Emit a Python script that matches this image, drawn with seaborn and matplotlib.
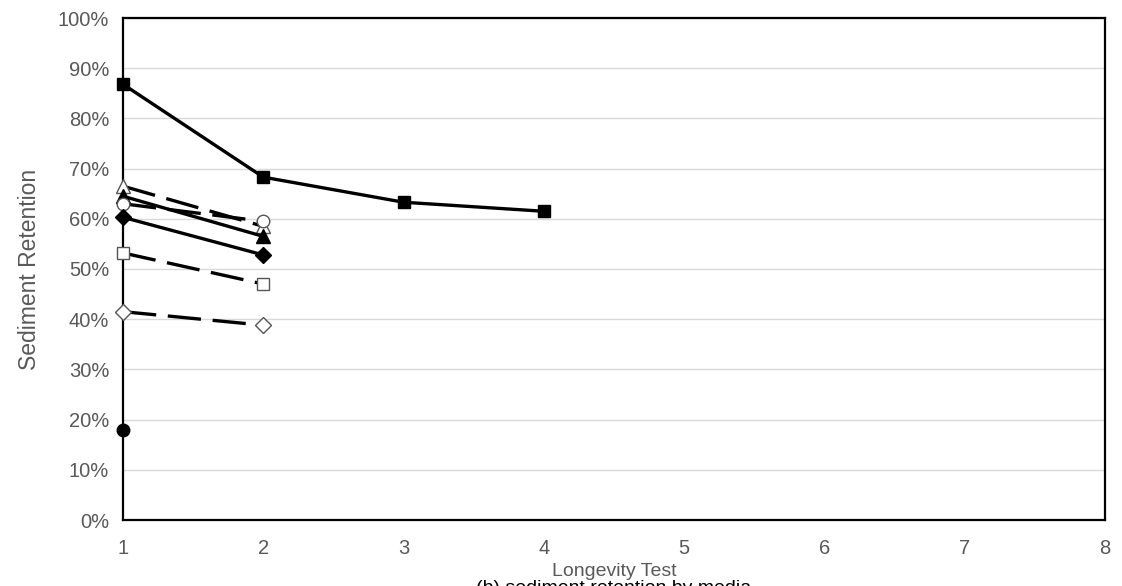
import pandas as pd
import numpy as np
import matplotlib.pyplot as plt
import seaborn as sns
from matplotlib.ticker import PercentFormatter

sns.set_theme(style="white")
plt.rcParams['font.family'] = ['Liberation Sans', 'DejaVu Sans']

# Retention values (%) per series
tests_a = [1, 2, 3, 4]
solid_square = [86.8, 68.3, 63.3, 61.5]

tests_b = [1, 2]
open_triangle = [66.5, 58.5]
solid_triangle = [64.5, 56.5]
open_circle = [63.0, 59.5]
solid_diamond = [60.3, 52.8]
open_square = [53.2, 47.0]
open_diamond = [41.5, 38.8]

tests_c = [1]
solid_circle = [18.0]

series = [
    ('solid square', tests_a, solid_square, 's', 'black', '-'),
    ('open triangle', tests_b, open_triangle, '^', 'white', '--'),
    ('solid triangle', tests_b, solid_triangle, '^', 'black', '-'),
    ('open circle', tests_b, open_circle, 'o', 'white', '--'),
    ('solid diamond', tests_b, solid_diamond, 'D', 'black', '-'),
    ('open square', tests_b, open_square, 's', 'white', '--'),
    ('open diamond', tests_b, open_diamond, 'D', 'white', '--'),
    ('solid circle', tests_c, solid_circle, 'o', 'black', '-'),
]
marker_sizes = {'s': 9, '^': 10, 'o': 9, 'D': 8}

fig = plt.figure(figsize=(11.22, 5.86), dpi=100)
ax = fig.add_axes([123 / 1122, 1 - 520 / 586, (1105 - 123) / 1122, (520 - 18) / 586])

for name, xs, ys, mk, fc, ls in series:
    df = pd.DataFrame({'test': xs, 'retention': ys})
    sns.lineplot(data=df, x='test', y='retention', ax=ax, color='black',
                 linewidth=2.4, marker=mk, markersize=marker_sizes[mk], markerfacecolor=fc,
                 markeredgecolor='black' if fc == 'black' else '#555555',
                 markeredgewidth=1.0, linestyle=ls, zorder=3, clip_on=False)
    if ls == '--':
        ax.lines[-1].set_dashes([10, 3.5])

ax.set_xlim(1, 8)
ax.set_ylim(0, 100)
ax.set_xticks(range(1, 9))
ax.set_yticks(np.arange(0, 101, 10))
ax.yaxis.set_major_formatter(PercentFormatter(decimals=0))
ax.grid(axis='y', color='#d9d9d9', linewidth=1.0)
ax.grid(axis='x', visible=False)
for s in ax.spines.values():
    s.set_color('black')
    s.set_linewidth(1.6)
ax.tick_params(axis='both', length=0, labelsize=14.5, labelcolor='#595959')
ax.tick_params(axis='x', pad=14)
ax.tick_params(axis='y', pad=10)
ax.set_xlabel('Longevity Test', fontsize=14, color='#595959', labelpad=3)
ax.set_ylabel('Sediment Retention', fontsize=16.5, color='#595959', labelpad=12)

fig.text(614 / 1122, 1 - 580 / 586, '(b) sediment retention by media', ha='center',
         va='top', fontsize=14, color='black')

fig.savefig('out.png', dpi=100)
plt.close(fig)
